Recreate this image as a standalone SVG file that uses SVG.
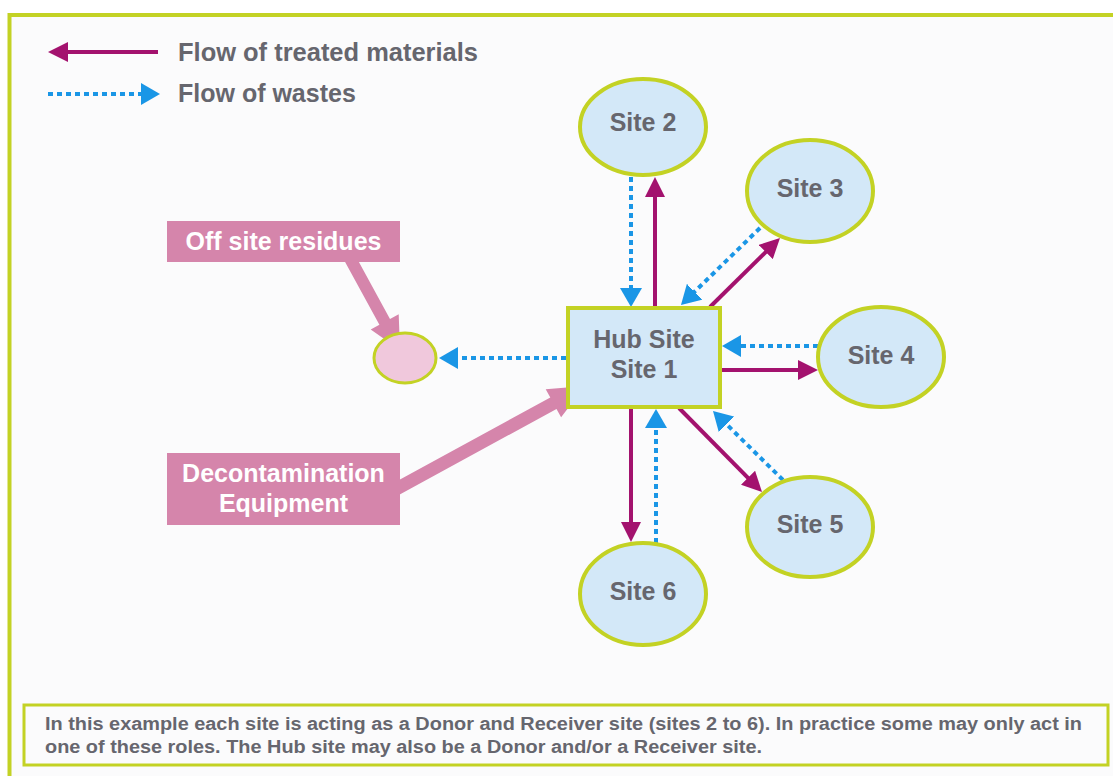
<svg xmlns="http://www.w3.org/2000/svg" width="1113" height="776" viewBox="0 0 1113 776">
<defs>
<style>
.site{fill:#d3e8f8;stroke:#c3d224;stroke-width:4}
.lbl{font-family:"Liberation Sans",Arial,sans-serif;font-weight:bold;font-size:25px;fill:#66666e;text-anchor:middle}
.note{fill:#d585ab}
.ntxt{font-family:"Liberation Sans",Arial,sans-serif;font-weight:bold;font-size:25px;fill:#ffffff;text-anchor:middle}
.mag{stroke:#a3126e;stroke-width:4;fill:none;marker-end:url(#mh)}
.blu{stroke:#1a96e6;stroke-width:4;fill:none;stroke-dasharray:5 4;marker-end:url(#bh)}
.foot{font-family:"Liberation Sans",Arial,sans-serif;font-weight:bold;font-size:17.5px;fill:#66666e}
</style>
<marker id="mh" viewBox="0 0 20 20" refX="12" refY="10" markerWidth="20" markerHeight="20" markerUnits="userSpaceOnUse" orient="auto"><path d="M0,0 L20,10 L0,20 z" fill="#a3126e"/></marker>
<marker id="bh" viewBox="0 0 19 22" refX="11" refY="11" markerWidth="19" markerHeight="22" markerUnits="userSpaceOnUse" orient="auto"><path d="M0,0 L19,11 L0,22 z" fill="#1a96e6"/></marker>
</defs>
<rect x="0" y="0" width="1113" height="776" fill="#ffffff"/>
<rect id="frame" x="9.5" y="15" width="1120" height="780" fill="#fbfbfc" stroke="#c3d224" stroke-width="4"/>
<g id="legend">
<line class="mag" x1="158" y1="52" x2="56" y2="52"/>
<line class="blu" x1="48" y1="94" x2="152" y2="94"/>
<text class="lbl" x="178" y="61" style="text-anchor:start" textLength="300" lengthAdjust="spacingAndGlyphs">Flow of treated materials</text>
<text class="lbl" x="178" y="102" style="text-anchor:start">Flow of wastes</text>
</g>
<g id="offsite">
<polygon class="note" points="353.5,252.1 390,319 398.7,314.2 400,350 370.7,329.6 379.4,324.8 342.9,257.9"/>
<rect class="note" x="167" y="221" width="233" height="41"/>
<text class="ntxt" x="283.5" y="250">Off site residues</text>
</g>
<g id="decon">
<polygon class="note" points="389.9,485.1 550.3,397.5 545.7,389.2 585,386 561.1,417.2 556.5,408.9 396.1,496.5"/>
<rect class="note" x="167" y="453" width="233" height="72"/>
<text class="ntxt" x="283.5" y="482">Decontamination</text>
<text class="ntxt" x="283.5" y="512">Equipment</text>
</g>
<g id="connectors">
<line class="blu" x1="631" y1="177" x2="631" y2="299"/>
<line class="mag" x1="655" y1="308" x2="655" y2="185"/>
<line class="blu" x1="760" y1="228" x2="686.7" y2="299.4"/>
<line class="mag" x1="710" y1="307" x2="774.3" y2="243.6"/>
<line class="blu" x1="818" y1="346" x2="730" y2="346"/>
<line class="mag" x1="720" y1="370" x2="810" y2="370"/>
<line class="mag" x1="679" y1="408" x2="756.4" y2="486.3"/>
<line class="blu" x1="783" y1="480" x2="718.7" y2="416.6"/>
<line class="mag" x1="631" y1="407" x2="631" y2="534"/>
<line class="blu" x1="656" y1="543" x2="656" y2="417"/>
<line class="blu" x1="566" y1="358" x2="447" y2="358"/>
</g>
<g id="residue">
<ellipse cx="405" cy="358" rx="31" ry="25" fill="#f0c8dc" stroke="#c3d224" stroke-width="3"/>
</g>
<g id="hub">
<rect class="site" x="568" y="308" width="152" height="99"/>
<text class="lbl" x="644" y="348">Hub Site</text>
<text class="lbl" x="644" y="378">Site 1</text>
</g>
<g id="site2"><ellipse class="site" cx="643" cy="127" rx="63" ry="48"/><text class="lbl" x="643" y="131">Site 2</text></g>
<g id="site3"><ellipse class="site" cx="810" cy="191" rx="63" ry="51"/><text class="lbl" x="810" y="197">Site 3</text></g>
<g id="site4"><ellipse class="site" cx="881" cy="357" rx="63" ry="50"/><text class="lbl" x="881" y="364">Site 4</text></g>
<g id="site5"><ellipse class="site" cx="810" cy="527" rx="63" ry="50"/><text class="lbl" x="810" y="533">Site 5</text></g>
<g id="site6"><ellipse class="site" cx="643" cy="594" rx="63" ry="51"/><text class="lbl" x="643" y="600">Site 6</text></g>
<g id="footnote">
<rect x="24" y="705" width="1084" height="60" fill="#fbfbfc" stroke="#c3d224" stroke-width="3"/>
<text class="foot" x="45" y="730" textLength="1037" lengthAdjust="spacingAndGlyphs">In this example each site is acting as a Donor and Receiver site (sites 2 to 6). In practice some may only act in</text>
<text class="foot" x="45" y="753" textLength="717" lengthAdjust="spacingAndGlyphs">one of these roles. The Hub site may also be a Donor and/or a Receiver site.</text>
</g>
</svg>
